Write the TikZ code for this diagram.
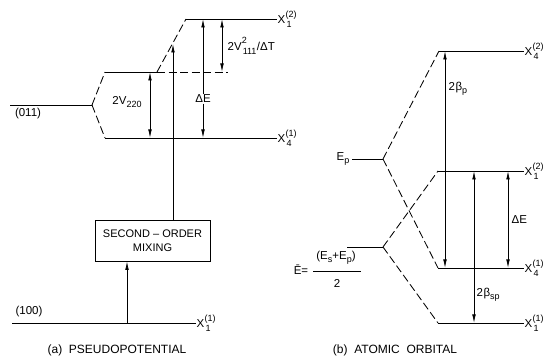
\documentclass[tikz,border=0pt]{standalone}
\usepackage{fontspec}
\setmainfont{Liberation Sans}
\usetikzlibrary{arrows.meta}
\newcommand{\subfont}{\fontsize{9}{10}\selectfont}
\newcommand{\lowsub}[1]{\raisebox{-2.6pt}{\subfont #1}}
\newcommand{\supsub}[2]{\setbox0=\hbox{\subfont#1}\setbox2=\hbox{\subfont\kern1pt#2}%
  \ifdim\wd0>\wd2\relax\dimen0=\wd0\else\dimen0=\wd2\fi
  \rlap{\raisebox{6.5pt}{\box0}}\rlap{\raisebox{-4pt}{\box2}}\hspace{\dimen0}}
\newcommand{\Xlab}[2]{X\kern0.3pt\supsub{(#2)}{#1}}
\begin{document}
\begin{tikzpicture}[x=1pt,y=-1pt,
  lvl/.style={line width=0.85pt},
  dsh/.style={line width=0.85pt,dash pattern=on 8pt off 3.5pt},
  dbl/.style={line width=0.75pt,{Latex[length=8.5pt,width=3.6pt]}-{Latex[length=8.5pt,width=3.6pt]}},
  arr/.style={line width=0.75pt,-{Latex[length=8.5pt,width=3.6pt]}},
  lab/.style={inner sep=0.5pt,font=\fontsize{11.5}{13}\selectfont},
  captext/.style={inner sep=0pt,font=\fontsize{12}{14}\selectfont},
  mixbox/.style={draw,line width=0.85pt,minimum width=115pt,minimum height=41pt,align=center,inner sep=1pt,font=\fontsize{11}{13.5}\selectfont}]
\useasboundingbox (0,0) rectangle (552,358);
% ---------- (a) pseudopotential ----------
\coordinate (a011) at (10,105);
\coordinate (aS) at (92,105);
\coordinate (aMl) at (105,72);
\coordinate (aMr) at (157,72);
\coordinate (aMe) at (228,72);
\coordinate (aTl) at (186,19);
\coordinate (aTr) at (277,19);
\coordinate (aLl) at (105,138);
\coordinate (aLr) at (277,138);
\coordinate (a100l) at (12,323);
\coordinate (a100r) at (196,323);
\draw[lvl] (a011) -- (aS);
\draw[dsh] (aS) -- (aMl);
\draw[dsh] (aS) -- (aLl);
\draw[lvl] (aMl) -- (aMr);
\draw[dsh] (aMr) -- (aMe);
\draw[dsh] (aMr) -- (aTl);
\draw[lvl] (aTl) -- (aTr);
\draw[lvl] (aLl) -- (aLr);
\draw[lvl] (a100l) -- (a100r);
\node[lab] (l011) at (28,114) {(011)};
\node[lab] (l100) at (29,312) {(100)};
\node[lab,anchor=west] (xa12) at (aTr) {\Xlab{1}{2}};
\node[lab,anchor=west] (xa41) at (aLr) {\Xlab{4}{1}};
\node[lab,anchor=west] (xa11) at (a100r) {\Xlab{1}{1}};
% 2V220
\coordinate (v1t) at (150,72);
\coordinate (v1b) at (150,138);
\draw[dbl] (v1t) -- (v1b);
\node[lab] (l220) at (127,102) {2V\lowsub{220}};
% 2V111^2/dT
\coordinate (v2t) at (222,19);
\coordinate (v2b) at (222,72);
\draw[dbl] (v2t) -- (v2b);
\node[lab,anchor=west] (l111) at (227,46) {2V\supsub{2}{111}\kern0.5pt/ΔT};
% Delta E (a)
\node[lab] (dEa) at (203,99) {ΔE};
\draw[arr] (dEa.north) -- (dEa.north |- aTl);
\draw[arr] (dEa.south) -- (dEa.south |- aLl);
% mixing box
\node[mixbox] (mix) at (152.5,240.5) {SECOND -- ORDER\\MIXING};
\coordinate (m0) at (127,323);
\draw[arr] (m0) -- (m0 |- mix.south);
\coordinate (m1) at (173,44);
\draw[arr] (m1 |- mix.north) -- (m1);
\node[captext] (capa) at (117,350) {(a)\ \ PSEUDOPOTENTIAL};
% ---------- (b) atomic orbital ----------
\coordinate (bX42l) at (439,51);
\coordinate (bX42r) at (524,51);
\coordinate (bEpl) at (352,159);
\coordinate (bEps) at (383,159);
\coordinate (bX12l) at (438,171);
\coordinate (bX12r) at (524,171);
\coordinate (bEml) at (347,247);
\coordinate (bEms) at (383,247);
\coordinate (bX41l) at (438,268);
\coordinate (bX41r) at (524,268);
\coordinate (bX11l) at (438,323);
\coordinate (bX11r) at (524,323);
\draw[lvl] (bX42l) -- (bX42r);
\draw[lvl] (bEpl) -- (bEps);
\draw[lvl] (bX12l) -- (bX12r);
\draw[lvl] (bEml) -- (bEms);
\draw[lvl] (bX41l) -- (bX41r);
\draw[lvl] (bX11l) -- (bX11r);
\draw[dsh] (bEps) -- (bX42l);
\draw[dsh] (bEps) -- (bX41l);
\draw[dsh] (bEms) -- (bX12l);
\draw[dsh] (bEms) -- (bX11l);
\node[lab,anchor=west] (xb42) at (bX42r) {\Xlab{4}{2}};
\node[lab,anchor=west] (xb12) at (bX12r) {\Xlab{1}{2}};
\node[lab,anchor=west] (xb41) at (bX41r) {\Xlab{4}{1}};
\node[lab,anchor=west] (xb11) at (bX11r) {\Xlab{1}{1}};
\node[lab,anchor=east] (lEp) at (350,159) {E\lowsub{p}};
% 2 beta_p
\coordinate (bp1) at (445,51);
\coordinate (bp2) at (445,268);
\draw[dbl] (bp1) -- (bp2);
\node[lab,anchor=west] (lbp) at (448,89) {2\kern0.5ptβ\lowsub{p}};
% 2 beta_sp
\coordinate (bs1) at (474,171);
\coordinate (bs2) at (474,323);
\draw[dbl] (bs1) -- (bs2);
\node[lab,anchor=west] (lbs) at (476,295) {2\kern0.5ptβ\lowsub{sp}};
% Delta E (b)
\coordinate (de1) at (508,171);
\coordinate (de2) at (508,268);
\draw[dbl] (de1) -- (de2);
\node[lab,anchor=west] (dEb) at (511,220) {ΔE};
% E bar
\node[lab] (lEm) at (301,270) {Ē=};
\node[lab] (fnum) at (336,258) {(E\lowsub{s}+E\lowsub{p})};
\node[lab] (fden) at (337,283) {2};
\coordinate (fb1) at (313,271);
\coordinate (fb2) at (361,271);
\draw[line width=0.6pt] (fb1) -- (fb2);
\node[captext] (capb) at (395,350) {(b)\ \ ATOMIC\ \ ORBITAL};
\end{tikzpicture}
\end{document}
